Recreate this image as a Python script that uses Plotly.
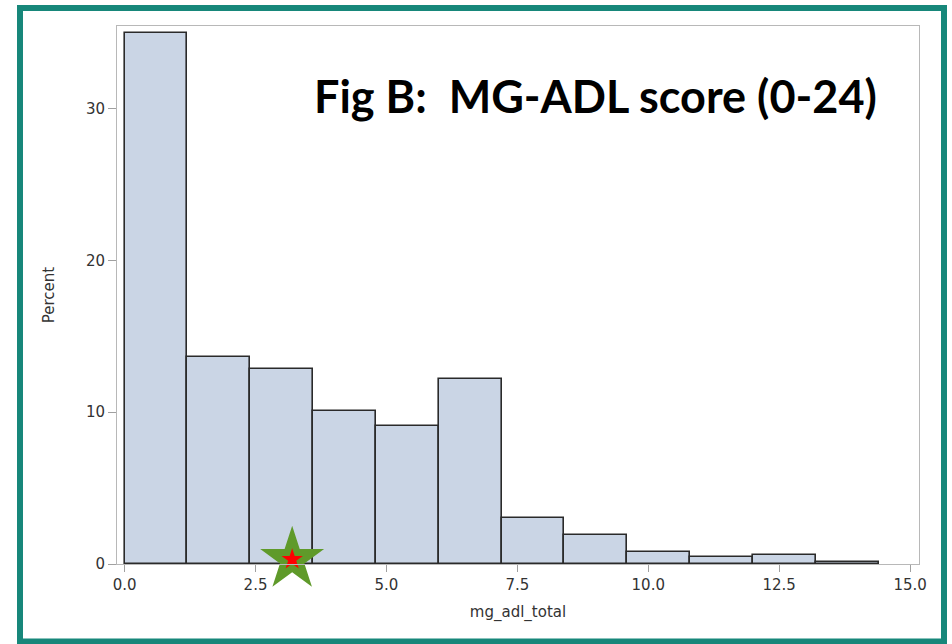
import plotly.graph_objects as go

# ---- data ----
bin_edges = [0.0, 1.2, 2.4, 3.6, 4.8, 6.0, 7.2, 8.4, 9.6, 10.8, 12.0, 13.2, 14.4]
percent = [35.0, 13.67, 12.83, 10.1, 9.12, 12.17, 3.03, 1.91, 0.76, 0.44, 0.61, 0.12]
x_ticks = [0.0, 2.5, 5.0, 7.5, 10.0, 12.5, 15.0]
y_ticks = [0, 10, 20, 30]
marker_x = [3.2]
marker_y = [0.3]
title_text = "Fig B:  MG-ADL score (0-24)"

centers = [(a + b) / 2 for a, b in zip(bin_edges[:-1], bin_edges[1:])]
widths = [b - a for a, b in zip(bin_edges[:-1], bin_edges[1:])]

W, H = 952, 644
L, R, T, B = 117, 33, 26, 80
pw, ph = W - L - R, H - T - B


def px(xp):
    return (xp - L) / pw


def py(yp):
    return 1 - (yp - T) / ph


fig = go.Figure()
fig.add_trace(go.Bar(
    x=centers, y=percent, width=widths,
    marker=dict(color="#CAD5E5", line=dict(color="#2a2a2a", width=1.6)),
    showlegend=False,
))
fig.add_trace(go.Scatter(
    x=marker_x, y=marker_y, mode="markers", cliponaxis=False,
    marker=dict(symbol="star", size=48, color="#5F9A2A", line=dict(width=0)),
    showlegend=False,
))
fig.add_trace(go.Scatter(
    x=marker_x, y=marker_y, mode="markers", cliponaxis=False,
    marker=dict(symbol="star", size=16, color="#FF0000", line=dict(width=0)),
    showlegend=False,
))

axis_font = dict(family="DejaVu Sans", size=15, color="#333333")
fig.update_layout(
    width=W, height=H,
    margin=dict(l=L, r=R, t=T, b=B),
    paper_bgcolor="white", plot_bgcolor="white",
    bargap=0,
    xaxis=dict(
        range=[-0.145, 15.17], tickvals=x_ticks, tickformat=".1f",
        ticks="outside", ticklen=7, tickcolor="#A0A0A0", tickwidth=1,
        showline=True, linecolor="#B8B8B8", linewidth=1, mirror=True,
        showgrid=False, zeroline=False, tickfont=axis_font,
        title=dict(text="mg_adl_total", font=axis_font, standoff=13),
    ),
    yaxis=dict(
        range=[0, 35.45], tickvals=y_ticks,
        ticks="outside", ticklen=8, tickcolor="#A0A0A0", tickwidth=1,
        showline=True, linecolor="#B8B8B8", linewidth=1, mirror=True,
        showgrid=False, zeroline=False, tickfont=axis_font,
        title=dict(text="Percent", font=axis_font, standoff=27),
    ),
    annotations=[dict(
        text="<b>" + title_text + "</b>", xref="paper", yref="paper",
        x=px(595), y=py(96), xanchor="center", yanchor="middle",
        showarrow=False, font=dict(family="Lato", size=45, color="black"),
    )],
    shapes=[dict(
        type="rect", xref="paper", yref="paper",
        x0=px(20), x1=px(944), y0=py(8), y1=py(641.5),
        line=dict(color="#17877A", width=6), fillcolor="rgba(0,0,0,0)",
        layer="above",
    )],
)

fig.write_html("out.html")
